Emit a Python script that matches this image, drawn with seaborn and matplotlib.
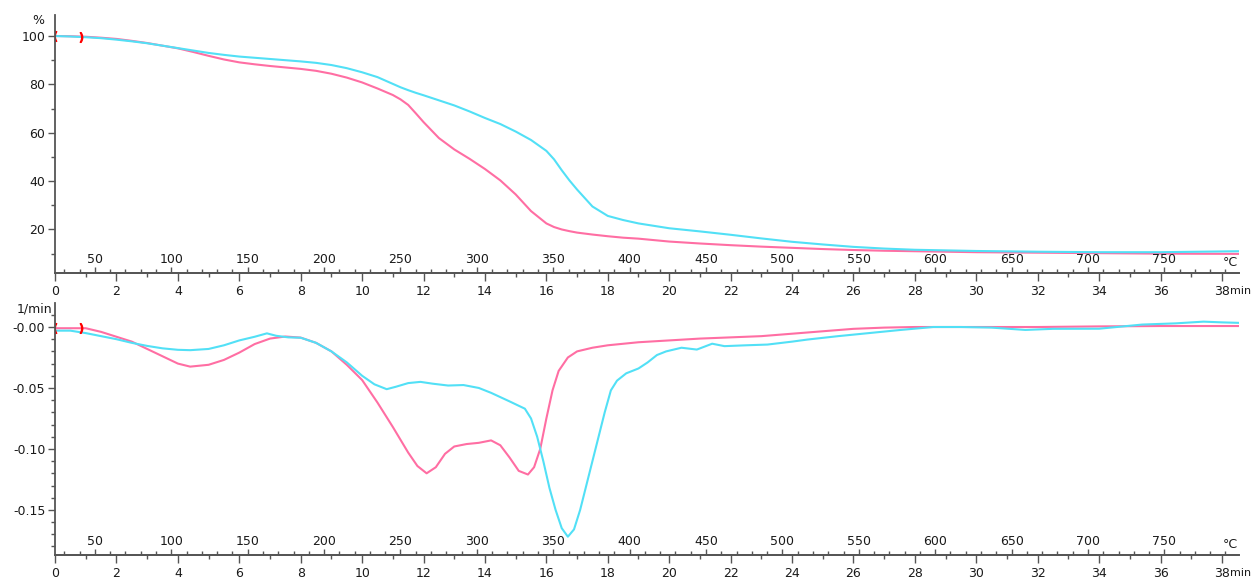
import numpy as np
import pandas as pd
import matplotlib.pyplot as plt
import matplotlib.ticker as mticker
import seaborn as sns

# ---- TG (top panel): mass in %, time in min ----
tg_time = [0, 0.5, 1, 1.5, 2, 2.5, 3, 3.5, 4, 4.5, 5, 5.5, 6, 6.5, 7, 7.5, 8, 8.5, 9, 9.5,
           10, 10.5, 11, 11.25, 11.5, 11.75, 12, 12.5, 13, 13.5, 14, 14.5, 15, 15.5, 16, 16.25,
           16.5, 16.75, 17, 17.5, 18, 18.5, 19, 20, 21, 22, 23, 24, 25, 26, 27, 28, 30, 32,
           34, 36, 38.55]
tg_pink = [100, 99.9, 99.7, 99.3, 98.8, 98.0, 97.1, 96.0, 94.9, 93.4, 91.8, 90.3, 89.1, 88.3,
           87.6, 87.0, 86.4, 85.6, 84.4, 82.8, 80.8, 78.3, 75.6, 73.8, 71.5, 68.0, 64.4, 57.8,
           53.1, 49.2, 45.0, 40.3, 34.5, 27.6, 22.5, 21.0, 20.0, 19.3, 18.7, 17.9, 17.2, 16.6,
           16.2, 15.0, 14.2, 13.5, 12.9, 12.4, 11.9, 11.5, 11.2, 11.0, 10.6, 10.4, 10.2, 10.0,
           9.9]
tg_cyan = [100, 99.8, 99.5, 99.1, 98.5, 97.8, 97.0, 96.0, 95.0, 94.0, 93.0, 92.2, 91.5, 91.0,
           90.5, 90.0, 89.5, 88.9, 88.0, 86.7, 85.0, 83.0, 80.2, 78.8, 77.6, 76.5, 75.5, 73.4,
           71.3, 68.8, 66.1, 63.6, 60.5, 57.0, 52.5, 49.0, 44.5, 40.3, 36.5, 29.5, 25.6, 23.9,
           22.5, 20.5, 19.2, 17.8, 16.3, 14.9, 13.8, 12.8, 12.1, 11.6, 11.1, 10.8, 10.6, 10.6,
           11.0]

# ---- DTG (bottom panel): 1/min ----
dtg_pink_time = [0, 0.5, 1.0, 1.5, 2.0, 2.5, 3.0, 3.5, 4.0, 4.4, 5.0, 5.5, 6.0, 6.5, 7.0, 7.5,
                 8.0, 8.5, 9.0, 9.5, 10.0, 10.5, 11.0, 11.5, 11.8, 12.1, 12.4, 12.7, 13.0, 13.4,
                 13.8, 14.2, 14.5, 14.8, 15.1, 15.4, 15.6, 15.8, 16.0, 16.2, 16.4, 16.7, 17.0,
                 17.5, 18.0, 19.0, 20.0, 21.0, 22.0, 23.0, 24.0, 25.0, 26.0, 27.0, 28.0, 30.0,
                 32.0, 34.0, 36.0, 38.55]
dtg_pink = [-0.001, -0.001, -0.001, -0.004, -0.008, -0.012, -0.018, -0.024, -0.030, -0.0325,
            -0.031, -0.027, -0.021, -0.014, -0.0095, -0.0078, -0.0087, -0.013, -0.020, -0.031,
            -0.0435, -0.062, -0.082, -0.103, -0.114, -0.120, -0.115, -0.104, -0.098, -0.096,
            -0.095, -0.093, -0.097, -0.107, -0.118, -0.121, -0.115, -0.100, -0.075, -0.052,
            -0.036, -0.025, -0.020, -0.017, -0.015, -0.0125, -0.011, -0.0095, -0.0085, -0.0075,
            -0.0055, -0.0035, -0.0015, -0.0005, 0.0, 0.0, 0.0, 0.0005, 0.0008, 0.0008]

dtg_cyan_time = [0, 0.5, 1.0, 1.5, 2.0, 2.5, 3.0, 3.5, 4.0, 4.4, 5.0, 5.5, 6.0, 6.5, 6.9, 7.2,
                 7.6, 8.0, 8.5, 9.0, 9.5, 10.0, 10.4, 10.8, 11.1, 11.5, 11.9, 12.3, 12.8, 13.3,
                 13.8, 14.2, 14.8, 15.3, 15.5, 15.7, 15.9, 16.1, 16.3, 16.5, 16.7, 16.9, 17.1,
                 17.3, 17.5, 17.7, 17.9, 18.1, 18.3, 18.6, 19.0, 19.3, 19.6, 19.9, 20.4, 20.9,
                 21.4, 21.8, 22.5, 23.2, 24.0, 24.5, 25.5, 26.5, 27.5, 28.6, 29.5, 30.5, 31.6,
                 32.5, 34.0, 35.4, 36.5, 37.4, 38.0, 38.55]
dtg_cyan = [-0.003, -0.003, -0.005, -0.0075, -0.010, -0.013, -0.0155, -0.0175, -0.0187, -0.019,
            -0.018, -0.015, -0.011, -0.008, -0.0052, -0.0072, -0.0085, -0.0088, -0.013, -0.020,
            -0.029, -0.040, -0.047, -0.051, -0.049, -0.046, -0.045, -0.0465, -0.048, -0.0476,
            -0.050, -0.054, -0.061, -0.067, -0.075, -0.090, -0.110, -0.132, -0.150, -0.165,
            -0.172, -0.166, -0.150, -0.130, -0.110, -0.090, -0.070, -0.052, -0.044, -0.038,
            -0.034, -0.029, -0.023, -0.020, -0.017, -0.0185, -0.0137, -0.0157, -0.015, -0.0144,
            -0.012, -0.0103, -0.0075, -0.005, -0.0025, 0.0, 0.0, -0.0005, -0.0024, -0.0015,
            -0.0014, 0.002, 0.003, 0.0044, 0.0038, 0.0034]

# axis labels / ticks
time_ticks = list(range(0, 39, 2))
time_minor = list(range(1, 39, 2))
temp_ticks = list(range(50, 751, 50))
tg_ticks = [20, 40, 60, 80, 100]
dtg_ticks = [-0.15, -0.10, -0.05, 0.0]
dtg_tick_labels = ["-0.15", "-0.10", "-0.05", "-0.00"]
marker_times = [0.0, 0.85]

T_END = 38.55
T0, RATE = 23.9, 20.1   # heating program: temperature = T0 + RATE * time

PINK = "#ff6ea3"
CYAN = "#52e0f6"
AXCOL = "#555555"
FS = 9

sns.set_style("white")
plt.rcParams["font.family"] = ["DejaVu Sans"]
plt.rcParams["text.color"] = "#1a1a1a"
plt.rcParams["xtick.color"] = "#1a1a1a"
plt.rcParams["ytick.color"] = "#1a1a1a"


def draw_panel(ax, t_pink, y_pink, t_cyan, y_cyan):
    df = pd.DataFrame({
        "time": list(t_pink) + list(t_cyan),
        "value": list(y_pink) + list(y_cyan),
        "sample": ["a"] * len(t_pink) + ["b"] * len(t_cyan),
    })
    sns.lineplot(data=df, x="time", y="value", hue="sample",
                 palette={"a": PINK, "b": CYAN}, linewidth=1.5,
                 legend=False, ax=ax)
    ym = np.interp(marker_times, t_pink, y_pink)
    ax.plot(marker_times[:1], ym[:1], marker=r"$($", color="red", markersize=7, ls="none")
    ax.plot(marker_times[1:], ym[1:], marker=r"$)$", color="red", markersize=7, ls="none")


def style_panel(ax, ylim, yticks, ylabels, yminor, unit, unit_dx):
    ax.set_xlim(0, T_END)
    ax.set_ylim(*ylim)
    ax.set_xlabel("")
    ax.set_ylabel("")
    for s in ["top", "right"]:
        ax.spines[s].set_visible(False)
    for s in ["left", "bottom"]:
        ax.spines[s].set_color(AXCOL)
        ax.spines[s].set_linewidth(1.3)
    ax.set_xticks(time_ticks)
    ax.set_xticks(time_minor, minor=True)
    ax.set_yticks(yticks)
    ax.set_yticklabels(ylabels)
    ax.yaxis.set_minor_locator(mticker.MultipleLocator(yminor))
    ax.tick_params(which="both", direction="out", color=AXCOL, width=1.0,
                   labelsize=FS, left=True, bottom=True)
    ax.tick_params(axis="x", which="major", length=6, pad=3)
    ax.tick_params(axis="x", which="minor", length=3)
    ax.tick_params(axis="y", which="major", length=5, pad=2)
    ax.tick_params(axis="y", which="minor", length=3)

    # temperature scale drawn on top of the time axis line
    tax = ax.twiny()
    tax.set_xlim(T0, T0 + RATE * T_END)
    tax.spines["top"].set_position(("axes", 0))
    tax.spines["top"].set_color(AXCOL)
    tax.spines["top"].set_linewidth(1.3)
    for s in ["bottom", "left", "right"]:
        tax.spines[s].set_visible(False)
    tax.set_xticks(temp_ticks)
    tax.xaxis.set_minor_locator(mticker.MultipleLocator(10))
    tax.tick_params(axis="x", which="both", direction="out", color=AXCOL,
                    width=1.0, labelsize=FS, pad=1)
    tax.tick_params(axis="x", which="major", length=4)
    tax.tick_params(axis="x", which="minor", length=3)

    ax.annotate("°C", xy=(1, 0), xycoords="axes fraction", xytext=(-1, 3),
                textcoords="offset points", ha="right", va="bottom", fontsize=FS)
    ax.annotate("min", xy=(1, 0), xycoords="axes fraction", xytext=(-6, -9.5),
                textcoords="offset points", ha="left", va="top", fontsize=8)
    ax.annotate(unit, xy=(0, 1), xycoords="axes fraction", xytext=(unit_dx, -4),
                textcoords="offset points", ha="right", va="center", fontsize=FS)


fig = plt.figure(figsize=(12.54, 5.78), dpi=100)
ax_top = fig.add_axes([0.0439, 0.5277, 0.9440, 0.4464])
ax_bot = fig.add_axes([0.0439, 0.0398, 0.9440, 0.4360])

draw_panel(ax_top, tg_time, tg_pink, tg_time, tg_cyan)
draw_panel(ax_bot, dtg_pink_time, dtg_pink, dtg_cyan_time, dtg_cyan)

style_panel(ax_top, (2.0, 108.7), tg_ticks, [str(v) for v in tg_ticks], 10, "%", -8)
style_panel(ax_bot, (-0.187, 0.0197), dtg_ticks, dtg_tick_labels, 0.01, "1/min", -2)

fig.savefig("out.png", dpi=100)
